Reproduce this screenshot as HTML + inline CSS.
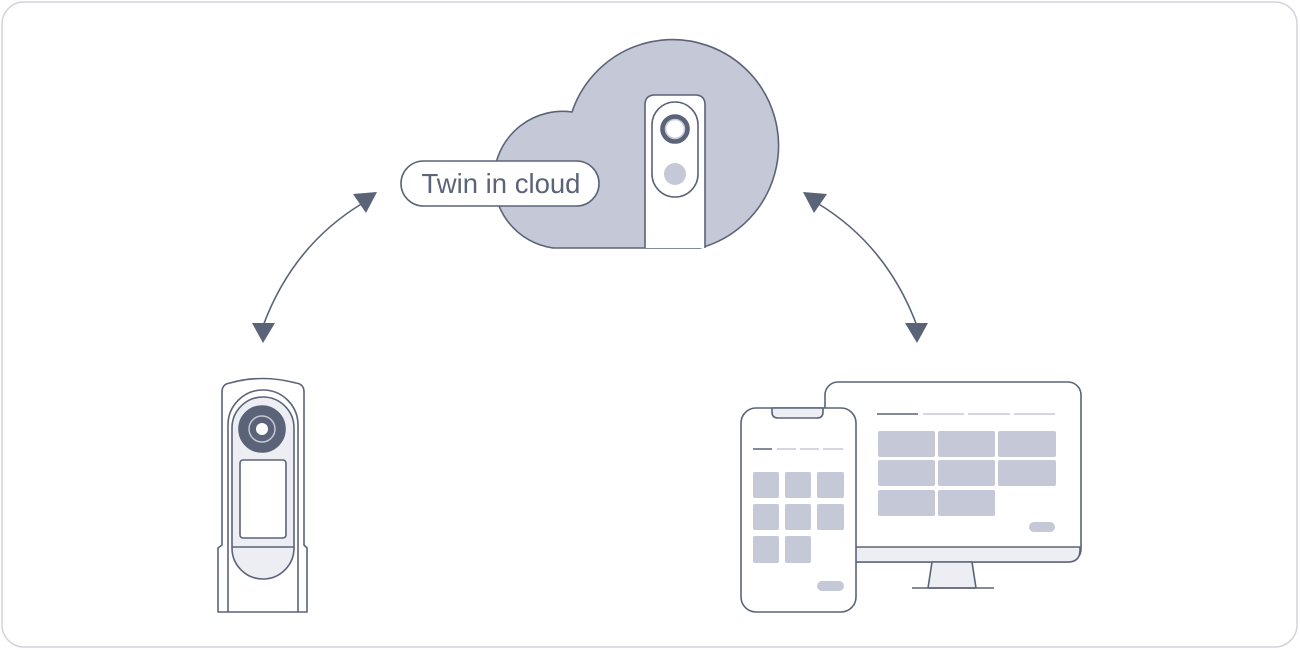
<!DOCTYPE html>
<html><head><meta charset="utf-8"><style>
html,body{margin:0;padding:0;background:#fff;}
svg{display:block;}
</style></head><body>
<svg width="1300" height="650" viewBox="0 0 1300 650" xmlns="http://www.w3.org/2000/svg">
<rect x="2" y="2" width="1295" height="645" rx="22" fill="#fff" stroke="#d3d3de" stroke-width="1.5"/>
<g stroke="#5b6378" stroke-width="1.6" fill="none" stroke-linejoin="round">
<!-- cloud -->
<path d="M553 248 A66 66 0 0 1 572 112 A106 106 0 1 1 700 248 Z" fill="#c5c8d6"/>
<path d="M645 248 V105 Q645 95 655 95 H695 Q705 95 705 105 V248" fill="#fff"/>
<rect x="652" y="102" width="46" height="95" rx="23" fill="#fff"/>
<circle cx="675" cy="129" r="14" fill="#5b6378"/>
<circle cx="675" cy="129" r="9.5" fill="#fff" stroke="#c5c8d6" stroke-width="1.5"/>
<circle cx="675" cy="129" r="7" fill="#fff" stroke="none"/>
<circle cx="675" cy="174" r="11" fill="#c5c8d6" stroke="none"/>
<rect x="401" y="161" width="198" height="45" rx="22.5" fill="#fff"/>
<!-- arrows -->
<path d="M263 326 Q293 245 363 203"/>
<path d="M817 203 Q887 245 917 326"/>
</g>
<g fill="#5b6378">
<polygon points="252,323 275,323 263,343"/>
<polygon points="353,194 377,192 366,213"/>
<polygon points="803,192 827,194 814,213"/>
<polygon points="905,323 928,323 917,343"/>
</g>
<text x="501" y="193" text-anchor="middle" font-family="Liberation Sans, sans-serif" font-size="27.5" fill="#5b6378">Twin in cloud</text>
<!-- left camera -->
<g stroke="#5b6378" stroke-width="1.6" fill="none" stroke-linejoin="round">
<path d="M222 545 V392 Q222 384 230 383 Q262 374 296 383 Q304 384 304 392 V545 L307 548 V612 H218 V548 Z" fill="#fff"/>
<path d="M228 612 V425 A35 35 0 0 1 298 425 V612"/>
<path d="M232 428 A31 31 0 0 1 294 428 V548 A31 31 0 0 1 232 548 Z" fill="#eceef4"/>
<line x1="232" y1="547" x2="294" y2="547"/>
<circle cx="262" cy="429" r="23" fill="#5b6378"/>
<circle cx="262" cy="429" r="13" fill="none" stroke="#c5c8d6" stroke-width="1.5"/>
<circle cx="262" cy="429" r="6" fill="#fff" stroke="none"/>
<rect x="240" y="460" width="46" height="78" rx="3" fill="#fff"/>
</g>
<!-- monitor -->
<g stroke="#5b6378" stroke-width="1.6" stroke-linejoin="round">
<rect x="825" y="382" width="256" height="180" rx="13" fill="#fff"/>
<path d="M826 547 H1080 V550 Q1080 562 1068 562 H838 Q826 562 826 550 Z" fill="#eceef4"/>
<polygon points="932,562 972,562 976,588 928,588" fill="#eceef4"/>
<line x1="912" y1="588" x2="994" y2="588"/>
</g>
<g stroke-width="1.5">
<line x1="877" y1="414" x2="918" y2="414" stroke="#5b6378"/>
<line x1="923" y1="414" x2="964" y2="414" stroke="#c5c8d6"/>
<line x1="968" y1="414" x2="1010" y2="414" stroke="#c5c8d6"/>
<line x1="1014" y1="414" x2="1055" y2="414" stroke="#c5c8d6"/>
</g>
<g fill="#c5c8d6">
<rect x="878" y="431" width="57" height="26" rx="2"/><rect x="938" y="431" width="57" height="26" rx="2"/><rect x="998" y="431" width="58" height="26" rx="2"/>
<rect x="878" y="460" width="57" height="26" rx="2"/><rect x="938" y="460" width="57" height="26" rx="2"/><rect x="998" y="460" width="58" height="26" rx="2"/>
<rect x="878" y="490" width="57" height="26" rx="2"/><rect x="938" y="490" width="57" height="26" rx="2"/>
<rect x="1029" y="522" width="26" height="10" rx="5"/>
</g>
<!-- phone -->
<g stroke="#5b6378" stroke-width="1.6" stroke-linejoin="round">
<rect x="741" y="408" width="115" height="204" rx="15" fill="#fff"/>
<path d="M772 408 H823 V412 Q823 418 817 418 H778 Q772 418 772 412 Z" fill="#eceef4"/>
</g>
<g stroke-width="1.5">
<line x1="753" y1="449" x2="772" y2="449" stroke="#5b6378"/>
<line x1="777" y1="449" x2="796" y2="449" stroke="#c5c8d6"/>
<line x1="800" y1="449" x2="819" y2="449" stroke="#c5c8d6"/>
<line x1="823" y1="449" x2="843" y2="449" stroke="#c5c8d6"/>
</g>
<g fill="#c5c8d6">
<rect x="753" y="472" width="26" height="26" rx="2"/><rect x="785" y="472" width="26" height="26" rx="2"/><rect x="817" y="472" width="27" height="26" rx="2"/>
<rect x="753" y="504" width="26" height="26" rx="2"/><rect x="785" y="504" width="26" height="26" rx="2"/><rect x="817" y="504" width="27" height="26" rx="2"/>
<rect x="753" y="536" width="26" height="27" rx="2"/><rect x="785" y="536" width="26" height="27" rx="2"/>
<rect x="817" y="581" width="27" height="10" rx="5"/>
</g>
</svg>
</body></html>
